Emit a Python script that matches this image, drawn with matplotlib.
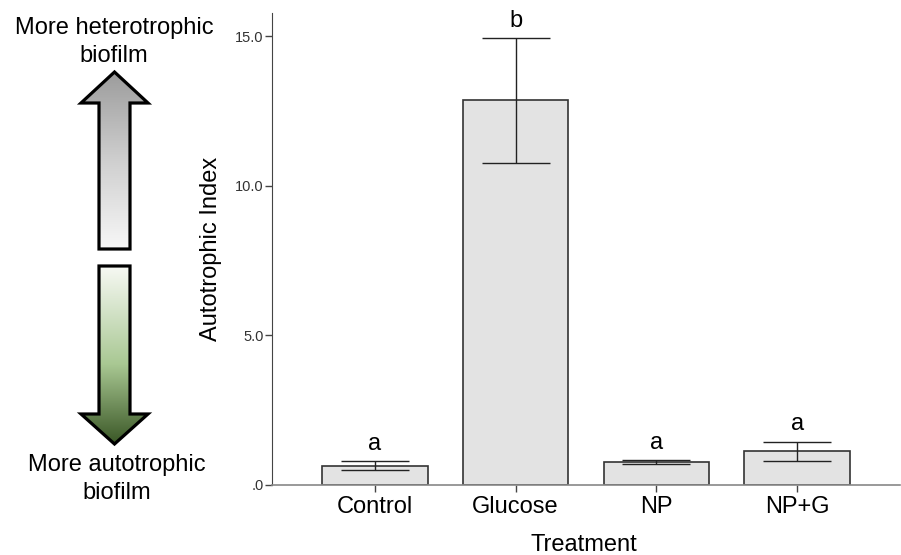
import numpy as np
import matplotlib
matplotlib.use("Agg")
import matplotlib.pyplot as plt
from matplotlib.patches import Polygon
from matplotlib.colors import LinearSegmentedColormap

plt.rcParams['font.family'] = ['Liberation Sans', 'DejaVu Sans']

# data
treatments = ['Control', 'Glucose', 'NP', 'NP+G']
means = [0.645, 12.85, 0.775, 1.12]
errors = [0.155, 2.08, 0.07, 0.33]
letters = ['a', 'b', 'a', 'a']
yticks = [0, 5, 10, 15]
ytick_labels = ['.0', '5.0', '10.0', '15.0']

W, H = 901, 555
fig = plt.figure(figsize=(W / 100, H / 100), dpi=100)

# main bar chart
ax = fig.add_axes([272 / W, 70 / H, 628 / W, 472 / H])
x = np.arange(len(treatments))
ax.bar(x, means, width=0.75, color='#e3e3e3', edgecolor='#333333', linewidth=1.2, zorder=2)
ax.errorbar(x, means, yerr=errors, fmt='none', ecolor='#222222', elinewidth=1.0,
            capsize=24.5, capthick=1.0, zorder=3)
for xi, m, e, lab in zip(x, means, errors, letters):
    ax.annotate(lab, (xi, m + e), xytext=(0, 8), textcoords='offset points',
                ha='center', va='baseline', fontsize=17)

ax.set_xlim(-0.73, 3.73)
ax.set_ylim(0, 15.77)
ax.set_xticks(x)
ax.set_xticklabels(treatments, fontsize=17)
ax.set_yticks(yticks)
ax.set_yticklabels(ytick_labels, fontsize=10.5, color='#333333')
ax.tick_params(axis='x', length=5, width=1, color='#444444', pad=3)
ax.tick_params(axis='y', length=5, width=1, color='#444444', pad=1)
for s in ['top', 'right']:
    ax.spines[s].set_visible(False)
ax.spines['left'].set_color('#444444')
ax.spines['bottom'].set_color('#888888')
ax.spines['bottom'].set_linewidth(1.2)

ax.set_xlabel('Treatment', fontsize=17)
ax.xaxis.set_label_coords(0.497, -0.104)
ax.set_ylabel('Autotrophic Index', fontsize=17)
ax.yaxis.set_label_coords(-0.08, 0.5)

# left panel with gradient arrows (pixel coordinates, y downwards)
lax = fig.add_axes([0, 0, 1, 1], zorder=-1)
lax.set_xlim(0, W)
lax.set_ylim(H, 0)
lax.axis('off')


def gradient_arrow(verts, colors, y0, y1):
    poly = Polygon(verts, closed=True, facecolor='none', edgecolor='black',
                   linewidth=2.3, joinstyle='miter', zorder=3)
    lax.add_patch(poly)
    cmap = LinearSegmentedColormap.from_list('g', colors)
    grad = np.linspace(0, 1, 256).reshape(-1, 1)
    im = lax.imshow(grad, cmap=cmap, aspect='auto', extent=[80, 150, y1, y0],
                    origin='upper', zorder=2)
    im.set_clip_path(poly)


up = [(114.5, 72), (148, 103), (130, 103), (130, 249), (99, 249), (99, 103), (81, 103)]
gradient_arrow(up, ['#9c9c9c', '#cfcfcf', '#f7f7f7'], 72, 249)

down = [(99, 266), (130, 266), (130, 414), (148, 414), (114.5, 444), (81, 414), (99, 414)]
gradient_arrow(down, [(0.0, '#f7f9f4'), (0.55, '#a9c893'), (1.0, '#3a5726')], 266, 444)

fig.text(114 / W, 1 - 42 / H, 'More heterotrophic\nbiofilm', ha='center', va='center',
         fontsize=17, linespacing=1.35)
fig.text(117 / W, 1 - 479 / H, 'More autotrophic\nbiofilm', ha='center', va='center',
         fontsize=17, linespacing=1.35)

fig.savefig('out.png', dpi=100)
